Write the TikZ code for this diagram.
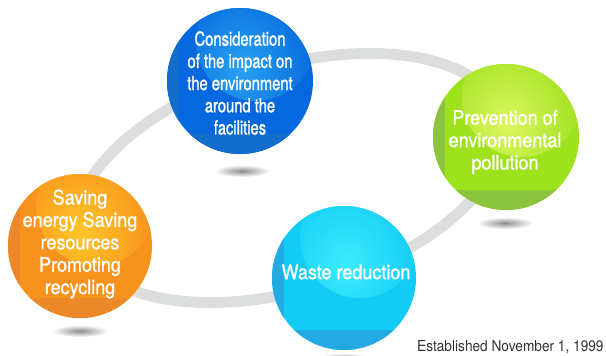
\documentclass[tikz,border=0pt]{standalone}
\usepackage{fontspec}
\usepackage{tikz}
\newfontfamily\bubblefont[FakeStretch=0.9, FakeBold=1.2]{TeX Gyre Heros}
\newfontfamily\narrowfont[FakeStretch=0.76, FakeBold=1.2]{TeX Gyre Heros}
\newfontfamily\notefont[FakeStretch=0.9]{TeX Gyre Heros}
\definecolor{color1}{RGB}{6,104,222}
\definecolor{color1hi}{RGB}{40,162,242}
\definecolor{color1lo}{RGB}{18,108,204}
\definecolor{color2}{RGB}{158,226,30}
\definecolor{color2hi}{RGB}{222,246,96}
\definecolor{color2lo}{RGB}{140,196,62}
\definecolor{color3}{RGB}{18,204,245}
\definecolor{color3hi}{RGB}{60,234,252}
\definecolor{color3lo}{RGB}{36,170,226}
\definecolor{color4}{RGB}{247,146,28}
\definecolor{color4hi}{RGB}{255,196,40}
\definecolor{color4lo}{RGB}{236,136,40}
\definecolor{ringgray}{RGB}{220,221,221}

\begin{document}
\begin{tikzpicture}[x=0.5pt, y=-0.5pt,
		ball/.style={circle, minimum size=73pt, inner sep=0pt, fill=#1,
			path picture={
				\shade[inner color=#1hi, outer color=#1] ([xshift=8pt, yshift=20pt]path picture bounding box.center) circle (30pt);
				\fill[#1lo] (path picture bounding box.south west) rectangle ([xshift=6pt]path picture bounding box.north west);
				\fill[#1lo] (path picture bounding box.south west) rectangle ([yshift=10pt]path picture bounding box.south east);
			}},
		caption/.style={text=white, align=center, inner sep=0pt, font=\bubblefont\fontsize{10}{11.2}\selectfont},
		ring/.style={draw=ringgray, line width=5.5pt},
		shadow/.style={inner color=black!45, outer color=white}]
	\useasboundingbox (0,0) rectangle (606,356);

	\draw[ring, rotate around={16.6:(290,178)}] (290,178) ellipse [x radius=110.5pt, y radius=56pt];

	\shade[shadow] (242,171) ellipse [x radius=14pt, y radius=3pt];
	\shade[shadow] (505,223) ellipse [x radius=14pt, y radius=3pt];
	\shade[shadow] (80,331) ellipse [x radius=14pt, y radius=3pt];
	\shade[shadow] (344,359) ellipse [x radius=14pt, y radius=3pt];

	\node[ball=color1] (impact) at (240,81) {};
	\node[ball=color2] (pollution) at (506,137) {};
	\node[ball=color3, minimum size=72pt] (waste) at (344,278) {};
	\node[ball=color4, minimum size=72pt] (saving) at (80,246) {};

	\node[caption, font=\narrowfont\fontsize{9.7}{11.1}\selectfont] (impact text) at (240,83)
		{Consideration\\of the impact on\\the environment\\around the\\facilities};
	\node[caption] (pollution text) at (505,142) {Prevention of\\environmental\\pollution};
	\node[caption] (waste text) at (346,272) {Waste reduction};
	\node[caption] (saving text) at (80,244) {Saving\\energy Saving\\resources\\Promoting\\recycling};

	\node[anchor=base east, inner sep=0pt, text=black!80, font=\notefont\fontsize{7.6}{9}\selectfont] (established) at (604,352)
		{Established November 1, 1999};
\end{tikzpicture}
\end{document}
